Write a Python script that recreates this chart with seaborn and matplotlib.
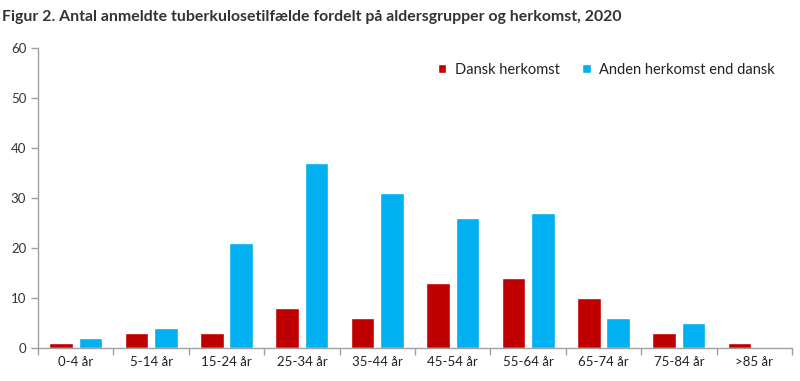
import pandas as pd
import seaborn as sns
import matplotlib.pyplot as plt

# Data
age_groups = ['0-4 år', '5-14 år', '15-24 år', '25-34 år', '35-44 år',
              '45-54 år', '55-64 år', '65-74 år', '75-84 år', '>85 år']
dansk = [1, 3, 3, 8, 6, 13, 14, 10, 3, 1]
anden = [2, 4, 21, 37, 31, 26, 27, 6, 5, 0]
series_names = ['Dansk herkomst', 'Anden herkomst end dansk']

df = pd.DataFrame({
    'alder': age_groups * 2,
    'antal': dansk + anden,
    'herkomst': [series_names[0]] * len(dansk) + [series_names[1]] * len(anden),
})

sns.set_style('white')
plt.rcParams['font.family'] = ['Lato', 'DejaVu Sans']

fig = plt.figure(figsize=(8, 3.81), dpi=100)
ax = fig.add_axes([38 / 800, 33 / 381, 754 / 800, 300 / 381])

sns.barplot(data=df, x='alder', y='antal', hue='herkomst', order=age_groups,
            hue_order=series_names, palette=['#C00000', '#00B0F0'],
            width=0.78, gap=0.2, saturation=1, ax=ax, legend=True)

ax.set_xlim(-0.5, len(age_groups) - 0.5)
ax.set_ylim(0, 60)
ax.set_yticks(range(0, 61, 10))
ax.set_xlabel('')
ax.set_ylabel('')

# ticks at category boundaries on x
ax.set_xticks([i - 0.5 for i in range(len(age_groups) + 1)], minor=True)
ax.tick_params(axis='x', which='major', length=0, labelsize=9.5, colors='#222222', pad=6)
ax.tick_params(axis='x', which='minor', length=5, color='#A0A0A0', width=1, direction='out', bottom=True)
ax.tick_params(axis='y', length=5, color='#A0A0A0', width=1, direction='out', left=True,
               labelsize=9.5, labelcolor='#333333')

for side in ['top', 'right']:
    ax.spines[side].set_visible(False)
for side in ['left', 'bottom']:
    ax.spines[side].set_color('#A0A0A0')
    ax.spines[side].set_linewidth(1)

leg = ax.legend(loc='upper right', bbox_to_anchor=(0.995, 0.995), ncol=2, frameon=False,
                fontsize=10.5, handlelength=0.6, handleheight=0.6, handletextpad=0.6,
                columnspacing=1.5)
for t in leg.get_texts():
    t.set_color('#222222')

fig.text(0.003, 0.975, 'Figur 2. Antal anmeldte tuberkulosetilfælde fordelt på aldersgrupper og herkomst, 2020',
         fontsize=11.4, fontweight='bold', color='#333333', va='top', ha='left')

fig.savefig('out.png', dpi=100)
